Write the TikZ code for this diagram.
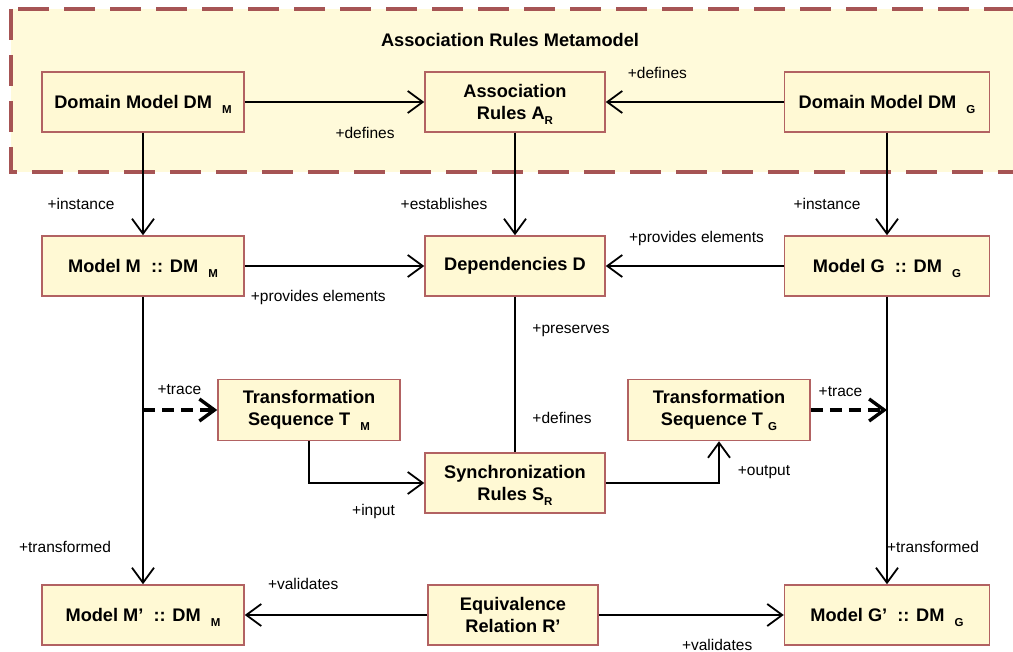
\documentclass[tikz,border=0pt]{standalone}
\usepackage{fontspec}
\setmainfont{Liberation Sans}
\usetikzlibrary{arrows.meta}
\definecolor{boxfill}{RGB}{255,249,212}
\definecolor{metafill}{RGB}{255,250,218}
\definecolor{boxline}{RGB}{178,98,98}
\definecolor{metaline}{RGB}{166,84,84}
\def\subtxt#1{\raisebox{-0.55ex}[0pt][0pt]{\fontsize{11.5}{12}\selectfont #1}}

\begin{document}
\begin{tikzpicture}[x=1pt,y=-1pt,>={Straight Barb[length=15pt,width=22pt]},line width=1.8pt,
                    main node/.style={rectangle,draw=boxline,fill=boxfill,line width=1.5pt,minimum height=60pt,
                                      align=center,inner sep=2pt,font=\fontsize{18.2}{22}\selectfont\bfseries},
                    label node/.style={font=\fontsize{15.5}{17}\selectfont,inner sep=1pt},
                    trace line/.style={line width=3.4pt,dash pattern=on 12pt off 7pt}]

  \useasboundingbox (0,0) rectangle (1013,652);
  \draw[metaline,fill=metafill,line width=3.6pt,dash pattern=on 31pt off 15pt] (11,9) rectangle (1040,172);
  \node[font=\fontsize{18.2}{22}\selectfont\bfseries] (title) at (510,40) {Association Rules Metamodel};

  \node[main node,minimum width=202pt] (1) at (143,102) {Domain Model DM\ \ \subtxt{M}};
  \node[main node,minimum width=180pt] (2) [right of=1,node distance=372pt] {Association\\Rules A\subtxt{R}};
  \node[main node,minimum width=205pt] (3) [right of=2,node distance=372pt] {Domain Model DM\ \ \subtxt{G}};
  \node[main node,minimum width=202pt] (4) [below of=1,node distance=164pt] {Model M\ \ :: DM\ \ \subtxt{M}};
  \node[main node,minimum width=180pt] (5) [below of=2,node distance=164pt] {Dependencies D};
  \node[main node,minimum width=205pt] (6) [below of=3,node distance=164pt] {Model G\ \ :: DM\ \ \subtxt{G}};
  \node[main node,minimum width=182pt,minimum height=61pt] (7) at (309,410) {Transformation\\Sequence T\ \ \subtxt{M}};
  \node[main node,minimum width=180pt] (8) [below of=5,node distance=217pt] {Synchronization\\Rules S\subtxt{R}};
  \node[main node,minimum width=182pt,minimum height=61pt] (9) at (719,410) {Transformation\\Sequence T\ \subtxt{G}};
  \node[main node,minimum width=202pt] (10) [below of=4,node distance=349pt] {Model M’\ \ :: DM\ \ \subtxt{M}};
  \node[main node,minimum width=170pt] (11) at (513,615) {Equivalence\\Relation R’};
  \node[main node,minimum width=205pt] (12) [below of=6,node distance=349pt] {Model G’\ \ :: DM\ \ \subtxt{G}};

  \coordinate (tm) at (4 |- 7);
  \coordinate (tg) at (6 |- 9);

  \path[->,every node/.style={label node}]
   (1) edge node [pos=.67,yshift=-31pt] {+defines} (2)
   (3) edge node [pos=.71,yshift=29pt] {+defines} (2)
   (1) edge node [pos=.69,xshift=-62pt] {+instance} (4)
   (2) edge node [pos=.69,xshift=-71pt] {+establishes} (5)
   (3) edge node [pos=.69,xshift=-60pt] {+instance} (6)
   (4) edge node [pos=.41,yshift=-31pt] {+provides elements} (5)
   (6) edge node [pos=.49,yshift=28pt] {+provides elements} (5)
   (4) edge node [pos=.87,xshift=-78pt] {+transformed} (10)
   (6) edge node [pos=.87,xshift=46pt] {+transformed} (12)
   (11) edge node [pos=.68,yshift=31pt] {+validates} (10)
   (11) edge node [pos=.64,yshift=-30pt] {+validates} (12);

  \path[-,every node/.style={label node}]
   (5) edge node [pos=.22,xshift=56pt] {+preserves} node [pos=.78,xshift=47pt] {+defines} (8);

  \draw[->] (7) |- node[label node,pos=.78,yshift=-28pt] {+input} (8);
  \draw[->] (8) -| node[label node,pos=.63,xshift=45pt] {+output} (9);

  % trace links
  \draw[->,trace line] (tm) -- node[label node,pos=.49,yshift=20pt] {+trace} (7);
  \draw[->,trace line] (9) -- node[label node,pos=.39,yshift=18pt] {+trace} (tg);
\end{tikzpicture}
\end{document}
